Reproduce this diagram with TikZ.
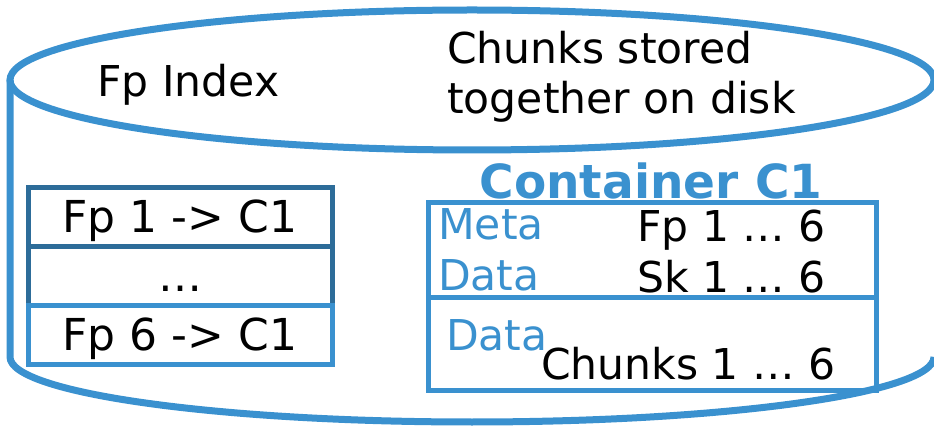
\documentclass[tikz,border=0pt]{standalone}
\usepackage{fontspec}
\setmainfont{DejaVu Sans}
\usepackage{tikz}
\usetikzlibrary{positioning}
\definecolor{diskblue}{RGB}{58,145,207}
\definecolor{idxblue}{RGB}{45,108,153}

\begin{document}
\begin{tikzpicture}[x=1pt, y=-1pt, node distance=0pt,
		disk/.style={draw=diskblue, line width=7pt},
		txt/.style={font=\fontsize{42.5}{50}\selectfont, inner sep=0pt},
		bluetxt/.style={txt, text=diskblue},
		cell/.style={txt, font=\fontsize{44}{50}\selectfont, draw=idxblue, line width=5pt, outer sep=0pt, minimum width=304pt, minimum height=59pt, text height=31pt, text depth=0pt},
		part/.style={draw=diskblue, line width=5pt, outer sep=0pt, inner sep=0pt, minimum width=448pt}]
	
	\useasboundingbox (0,0) rectangle (934,427);
	
	% disk
	\draw[disk] (472,80) ellipse [x radius=462pt, y radius=70pt];
	\draw[disk] (10,80) -- (10,357) arc [start angle=180, end angle=360, x radius=462pt, y radius=65pt];
	
	\node[txt, anchor=base west] (fpindex) at (97,97) {Fp Index};
	\node[txt, anchor=north west, align=left] (stored) at (447,31) {Chunks stored\\together on disk};
	
	% fingerprint index
	\node[cell] (fp1) at (180,217) {Fp 1 -> C1};
	\node[cell] (dots) [below=of fp1] {…};
	\node[cell, draw=diskblue] (fp6) [below=of dots] {Fp 6 -> C1};
	
	% container
	\node[txt, font=\fontsize{47}{50}\selectfont\bfseries, text=diskblue, anchor=base] (title) at (651,199) {Container C1};
	\node[part, minimum height=95pt] (meta) at (652,250.5) {};
	\node[part, minimum height=92pt] (data) [below=of meta] {};
	
	\node[bluetxt, anchor=base west] (metalbl) at (438,240) {Meta};
	\node[bluetxt, anchor=base west] (datalbl) at (438,291) {Data};
	\node[txt, anchor=base west] (fps) at (637,242) {Fp 1 … 6};
	\node[txt, anchor=base west] (sks) at (637,293) {Sk 1 … 6};
	\node[bluetxt, anchor=base west] (chunklbl) at (446,351) {Data};
	\node[txt, anchor=base west] (chunks) at (541,380) {Chunks 1 … 6};
	
\end{tikzpicture}
\end{document}
